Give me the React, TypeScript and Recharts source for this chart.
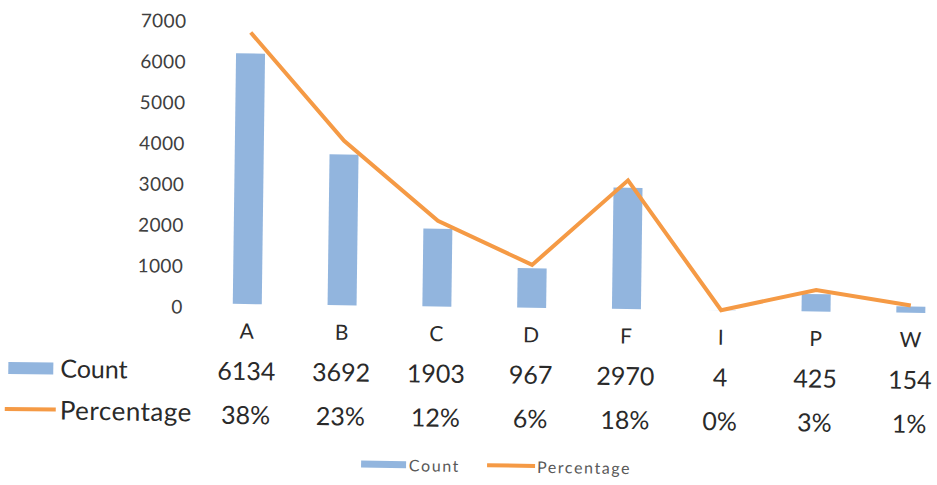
import React from "react";
import { ComposedChart, Bar, Line, XAxis, YAxis, Legend } from "recharts";

// Source values
const categories = ["A", "B", "C", "D", "F", "I", "P", "W"];
const counts = [6134, 3692, 1903, 967, 2970, 4, 425, 154];
const percentages = [38, 23, 12, 6, 18, 0, 3, 1];
const countTicks = [0, 1000, 2000, 3000, 4000, 5000, 6000, 7000];

const data = categories.map((category, i) => ({
  category,
  Count: counts[i],
  Percentage: percentages[i],
}));

const BLUE = "#92b5de";
const ORANGE = "#f59a45";
const FONT = "Lato, 'Noto Sans', 'DejaVu Sans', sans-serif";
const TEXT = "#2a2a2a";

const YTick = (props: any) => {
  const { x, y, payload } = props;
  return (
    <text
      x={x}
      y={y}
      dy={3}
      textAnchor="end"
      dominantBaseline="central"
      fontFamily={FONT}
      fontSize={19}
      letterSpacing={0.4}
      fill="#404040"
    >
      {payload.value}
    </text>
  );
};

// Data table beneath the axis: category, count and percentage per column,
// with the row headers drawn alongside the first column.
const TableTick = (props: any) => {
  const { x, y, payload } = props;
  const i = payload.index ?? props.index ?? 0;
  const common = {
    textAnchor: "middle" as const,
    dominantBaseline: "central" as const,
    fontFamily: FONT,
    fill: TEXT,
  };
  return (
    <g>
      {i === 0 && (
        <g>
          <rect x={10} y={y + 61} width={45} height={12} fill={BLUE} />
          <text x={62} y={y + 66} dominantBaseline="central" fontFamily={FONT} fontSize={25} fill={TEXT}>
            Count
          </text>
          <line x1={7} x2={58} y1={y + 108} y2={y + 108} stroke={ORANGE} strokeWidth={4} />
          <text
            x={62}
            y={y + 108}
            dominantBaseline="central"
            fontFamily={FONT}
            fontSize={26}
            letterSpacing={0.5}
            fill={TEXT}
          >
            Percentage
          </text>
        </g>
      )}
      <text x={x} y={y + 26} fontSize={21} {...common}>
        {payload.value}
      </text>
      <text x={x} y={y + 66} fontSize={25} {...common}>
        {counts[i]}
      </text>
      <text x={x} y={y + 110} fontSize={25} {...common}>
        {percentages[i]}%
      </text>
    </g>
  );
};

const LegendContent = (props: any) => {
  const { payload = [] } = props;
  return (
    <div
      style={{
        height: 30,
        width: 998,
        display: "flex",
        justifyContent: "center",
        alignItems: "center",
        fontFamily: FONT,
        fontSize: 16,
        letterSpacing: 1.6,
        color: "#595959",
      }}
    >
      {payload.map((entry: any, idx: number) => (
        <div
          key={entry.value}
          style={{ display: "flex", alignItems: "center", marginLeft: idx === 0 ? 0 : 27 }}
        >
          {entry.type === "line" ? (
            <div style={{ width: 48, height: 4, background: entry.color, marginRight: 2 }} />
          ) : (
            <div style={{ width: 45, height: 7, background: entry.color, marginRight: 3 }} />
          )}
          <span>{entry.value}</span>
        </div>
      ))}
    </div>
  );
};

export default function App() {
  return (
    <div
      style={{
        position: "absolute",
        left: 0,
        top: 0,
        width: 937,
        height: 485,
        overflow: "hidden",
        background: "#ffffff",
      }}
    >
      <div style={{ transform: "rotate(0.75deg)", transformOrigin: "468px 242px" }}>
        <ComposedChart
          width={990}
          height={485}
          data={data}
          margin={{ top: 21, right: 31, bottom: 5, left: 0 }}
        >
          <XAxis
            dataKey="category"
            height={130}
            axisLine={false}
            tickLine={false}
            tickSize={0}
            tickMargin={0}
            interval={0}
            tick={<TableTick />}
          />
          <YAxis
            yAxisId="left"
            width={200.6}
            domain={[0, 7000]}
            ticks={countTicks}
            axisLine={false}
            tickLine={false}
            tickSize={0}
            tickMargin={17}
            tick={<YTick />}
          />
          <YAxis yAxisId="right" orientation="right" domain={[0, 40]} hide />
          <Legend
            verticalAlign="bottom"
            content={<LegendContent />}
            wrapperStyle={{ left: 0, width: 998 }}
          />
          <Bar
            yAxisId="left"
            dataKey="Count"
            fill={BLUE}
            barSize={29}
            isAnimationActive={false}
            legendType="rect"
          />
          <Line
            yAxisId="right"
            dataKey="Percentage"
            type="linear"
            stroke={ORANGE}
            strokeWidth={4}
            dot={false}
            activeDot={false}
            isAnimationActive={false}
            legendType="line"
          />
        </ComposedChart>
      </div>
    </div>
  );
}
